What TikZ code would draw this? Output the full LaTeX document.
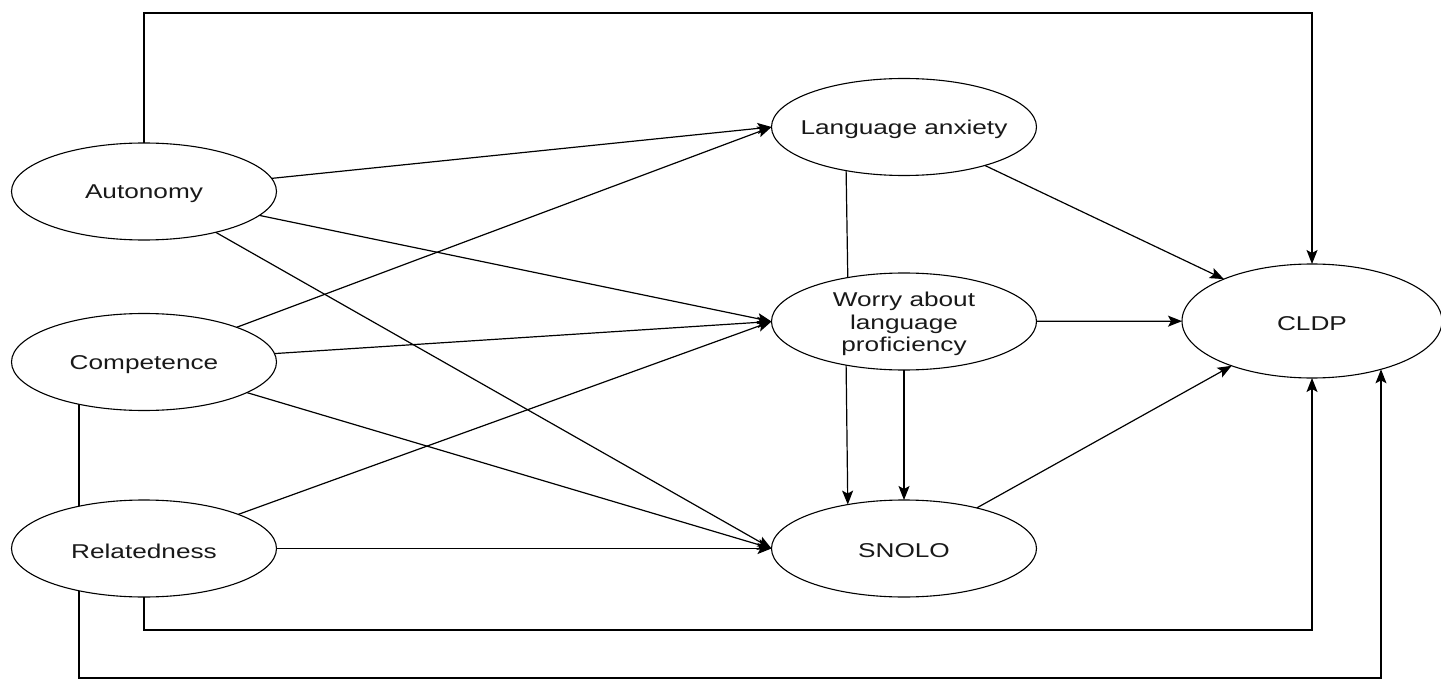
\documentclass[tikz,border=0pt]{standalone}
\usepackage{fontspec}
\setmainfont{Liberation Sans}
\usetikzlibrary{shapes.geometric,arrows.meta,backgrounds}
\newcommand{\hs}[1]{\scalebox{1.31}[1]{#1}}
\begin{document}
\begin{tikzpicture}[x=1pt,y=-1pt,
  var/.style={ellipse, draw, line width=1.1pt, fill=white, minimum width=265pt, minimum height=97pt, inner sep=0pt, outer sep=0pt},
  bigvar/.style={var, minimum width=260pt, minimum height=114pt},
  txt/.style={font=\fontsize{20}{22.5}\selectfont, align=center, inner sep=0pt, yshift=-2.5pt, text=black!90},
  arr/.style={line width=1.2pt, -{Stealth[length=14pt,width=11pt,inset=3pt]}},
  ln/.style={line width=1.2pt}]
\useasboundingbox (0,0) rectangle (1441,679);
\node[var, label={[txt]center:\hs{Autonomy}}] (aut) at (144,191.5) {};
\node[var, label={[txt]center:\hs{Competence}}] (comp) at (144,362) {};
\node[var, label={[txt]center:\hs{Relatedness}}] (rel) at (144,548.5) {};
\node[var, label={[txt]center:\hs{Language anxiety}}] (la) at (904,127) {};
\node[var, label={[txt]center:{\hs{Worry about}\\\hs{language}\\\hs{proficiency}}}] (worry) at (904,321.5) {};
\node[var, label={[txt]center:\hs{SNOLO}}] (snolo) at (904,548.5) {};
\node[bigvar, label={[txt]center:\hs{CLDP}}] (cldp) at (1312,321) {};
\coordinate (top) at (0,13);
\coordinate (bot1) at (0,630);
\coordinate (bot2) at (0,678);
\draw[arr] (aut) -- (la.west);
\draw[arr] (aut) -- (worry.west);
\draw[arr] (aut) -- (snolo.west);
\draw[arr] (comp) -- (la.west);
\draw[arr] (comp) -- (worry.west);
\draw[arr] (comp) -- (snolo.west);
\draw[arr] (rel) -- (worry.west);
\draw[arr] (rel) -- (snolo);
\draw[ln] (la.217.5) -- (worry.142.5);
\draw[arr] (worry.217.5) -- (snolo.142.5);
\draw[arr] (worry.south) -- (snolo.north);
\draw[arr] (la) -- (cldp);
\draw[arr] (worry) -- (cldp);
\draw[arr] (snolo) -- (cldp);
\draw[arr] (aut.north) -- (aut.north |- top) -| (cldp.north);
\draw[arr] (rel.south) -- (rel.south |- bot1) -| (cldp.south);
\begin{pgfonlayer}{background}
\draw[arr] (comp.213) -- (comp.213 |- bot2) -| (cldp.325);
\end{pgfonlayer}
\end{tikzpicture}
\end{document}
